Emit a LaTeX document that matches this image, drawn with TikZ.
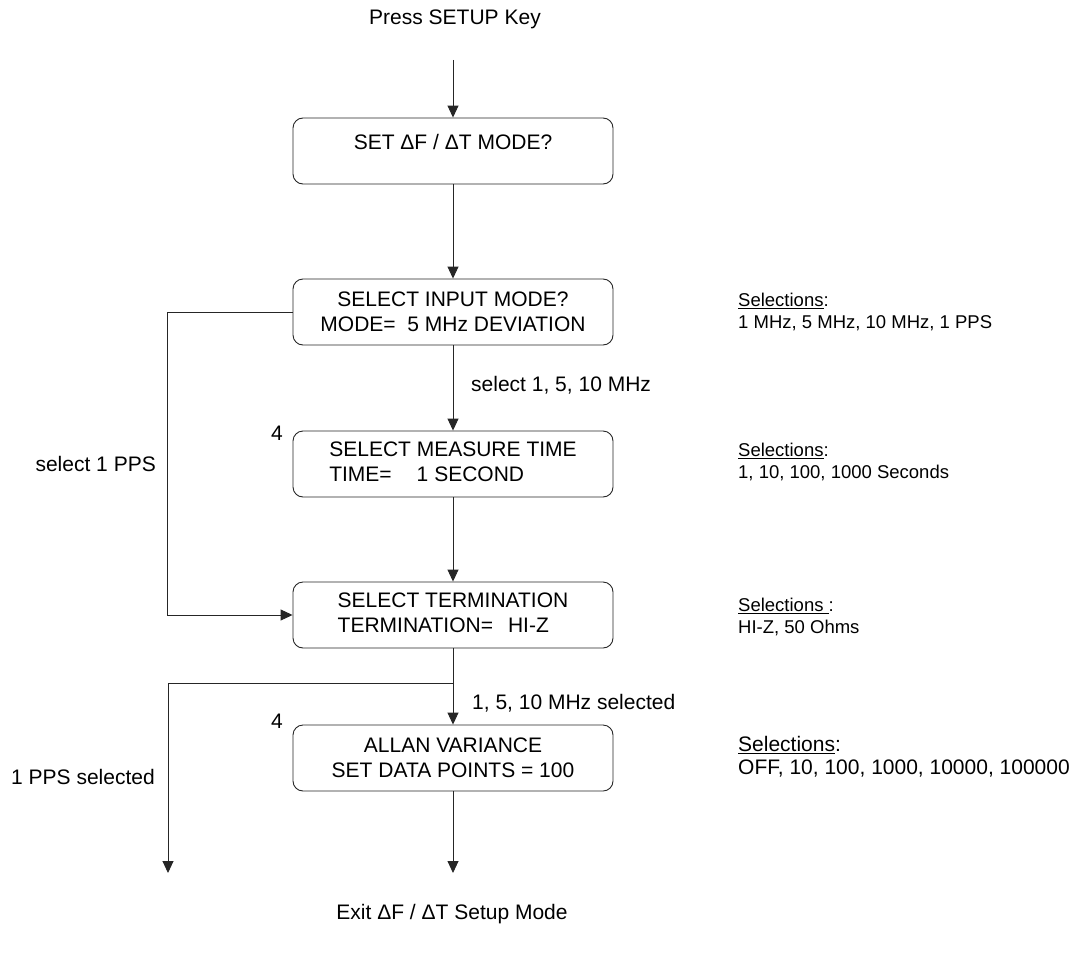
\documentclass[tikz,border=0pt]{standalone}
\usepackage{fontspec}
\setmainfont{Liberation Sans}
\usetikzlibrary{arrows.meta}
\begin{document}
\begin{tikzpicture}[x=1pt,y=-1pt,
  box/.style={draw=black!85, rounded corners=10pt, minimum width=320pt, minimum height=66pt, inner sep=0pt, align=center, font=\fontsize{21}{25}\selectfont, line width=0.9pt},
  lbl/.style={inner sep=0pt, font=\fontsize{21}{25}\selectfont},
  sel/.style={inner sep=0pt, align=left, anchor=west, font=\fontsize{18.5}{22}\selectfont},
  conn/.style={line width=0.9pt, draw=black!85},
  arr/.style={conn, -{Triangle[length=12pt,width=11pt]}}
]
\useasboundingbox (0,0) rectangle (1081,958);

% boxes
\node[box] (b1) at (453,151) {SET ΔF / ΔT MODE?\\[-14pt]\strut};
\node[box] (b2) at (453,312) {SELECT INPUT MODE?\\MODE=\ \ 5 MHz DEVIATION};
\node[box] (b3) at (453,464) {\begin{tabular}{@{}l@{}}SELECT MEASURE TIME\\TIME=\hspace{25pt}1 SECOND\end{tabular}};
\node[box] (b4) at (453,615) {\begin{tabular}{@{}l@{}}SELECT TERMINATION\\TERMINATION=\hspace{15pt}HI-Z\end{tabular}};
\node[box] (b5) at (453,758) {ALLAN VARIANCE\\SET DATA POINTS = 100};

% texts
\node[lbl] (press) at (455,19) {Press SETUP Key};
\node[lbl] (exit) at (452,914) {Exit ΔF / ΔT Setup Mode};
\node[lbl,anchor=east] (pps1) at (156,464) {select 1 PPS};
\node[lbl,anchor=east] (pps2) at (155,777) {1 PPS selected};
\node[lbl] (n4a) at (277,433) {4};
\node[lbl] (n4b) at (277,721) {4};
\node[lbl,anchor=west] (mhz1) at (471,385) {select 1, 5, 10 MHz};
\node[lbl,anchor=west] (mhz2) at (472,703) {1, 5, 10 MHz selected};

\node[sel] (s1) at (738,312) {\underline{Selections}:\\1 MHz, 5 MHz, 10 MHz, 1 PPS};
\node[sel] (s2) at (738,462) {\underline{Selections}:\\1, 10, 100, 1000 Seconds};
\node[sel] (s3) at (738,617) {\underline{Selections\ }:\\HI-Z, 50 Ohms};
\node[sel, font=\fontsize{21}{23}\selectfont] (s4) at (738,757) {\underline{Selections}:\\OFF, 10, 100, 1000, 10000, 100000};

% connectors
\coordinate (top) at (453,60);
\coordinate (j) at (453,683);
\coordinate (ppsend) at (168,873);
\coordinate (exitend) at (453,873);
\draw[arr] (top) -- (b1.north);
\draw[arr] (b1.south) -- (b2.north);
\draw[arr] (b2.south) -- (b3.north);
\draw[arr] (b3.south) -- (b4.north);
\draw[arr] (b4.south) -- (b5.north);
\draw[arr] (b2.west) -- ++(-125,0) |- (b4.west);
\draw[arr] (j) -| (ppsend);
\draw[arr] (b5.south) -- (exitend);
\end{tikzpicture}
\end{document}
